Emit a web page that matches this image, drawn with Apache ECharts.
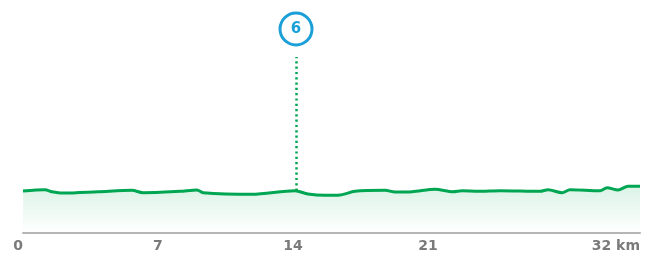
<!DOCTYPE html>
<html>
<head>
<meta charset="utf-8">
<script src="https://cdn.jsdelivr.net/npm/echarts@6/dist/echarts.min.js"></script>
<style>
  html, body { margin: 0; padding: 0; background: #fff; }
  #chart { width: 653px; height: 253px; }
</style>
</head>
<body>
<div id="chart"></div>
<script>
// profil: distance (km) / altitude (m)
const distKm = [0, 1.14, 1.5, 2.07, 3.89, 5.65, 6.22, 8.14, 9.02, 9.34, 11.88, 14.1, 14.78, 15.66, 16.44,
  17.22, 18.78, 19.29, 20.18, 21.37, 22.3, 22.77, 23.6, 24.74, 26.82, 27.23, 27.96, 28.37, 29.93,
  30.29, 30.86, 31.38, 32]
const elevation = [84, 86.6, 82.6, 80, 82.6, 85.4, 80.6, 83.4, 86, 80.6, 77.4, 84.6, 78, 75.4, 76,
  83.4, 85.4, 82, 82.6, 87.4, 82.6, 84.6, 83.4, 84.6, 83.4, 86.6, 80.6, 86.6, 84.6,
  90.6, 86, 93.4, 93.4]
const tickKm = [0, 7, 14, 21, 32]

// repère
const markerKm = 14.16
const markerElev = 84.6
const markerLabel = '6'

const lineColor = '#00a651'
const blue = '#1a9fd8'

const chart = echarts.init(document.getElementById('chart'))

const option = {
  animation: false,
  grid: {
    left: 23,
    right: 13,
    top: 20,
    bottom: 20
  },
  xAxis: {
    type: 'value',
    min: 0,
    max: 32,
    axisLine: {
      show: true,
      lineStyle: { color: '#b5b5b5', width: 2 }
    },
    axisTick: { show: false },
    splitLine: { show: false },
    axisLabel: {
      customValues: tickKm,
      color: '#7a7a7a',
      fontWeight: 'bold',
      fontSize: 14,
      fontFamily: 'DejaVu Sans',
      margin: 6,
      alignMinLabel: 'right',
      alignMaxLabel: 'right',
      formatter: function (v) {
        return v === 32 ? '32 km' : String(v)
      }
    }
  },
  yAxis: {
    type: 'value',
    min: 0,
    max: 426,
    show: false,
    splitLine: { show: false }
  },
  series: [
    {
      type: 'line',
      data: distKm.map((d, i) => [d, elevation[i]]),
      smooth: 0.3,
      symbol: 'none',
      lineStyle: { color: lineColor, width: 3 },
      areaStyle: {
        color: new echarts.graphic.LinearGradient(0, 0, 0, 1, [
          { offset: 0, color: 'rgba(0,166,81,0.2)' },
          { offset: 1, color: 'rgba(0,166,81,0)' }
        ]),
        origin: 'start'
      },
      markLine: {
        silent: true,
        symbol: 'none',
        label: { show: false },
        lineStyle: { color: lineColor, width: 2.5, type: [2.2, 3.1] },
        data: [
          [{ coord: [markerKm, markerElev] }, { coord: [markerKm, 352] }]
        ]
      },
      markPoint: {
        silent: true,
        symbol: 'circle',
        symbolSize: 32,
        itemStyle: { color: '#fff', borderColor: blue, borderWidth: 3 },
        label: {
          show: true,
          formatter: markerLabel,
          color: blue,
          fontWeight: 'bold',
          fontSize: 15,
          fontFamily: 'DejaVu Sans'
        },
        data: [{ coord: [markerKm, 408] }]
      }
    }
  ]
}

chart.setOption(option)
</script>
</body>
</html>
